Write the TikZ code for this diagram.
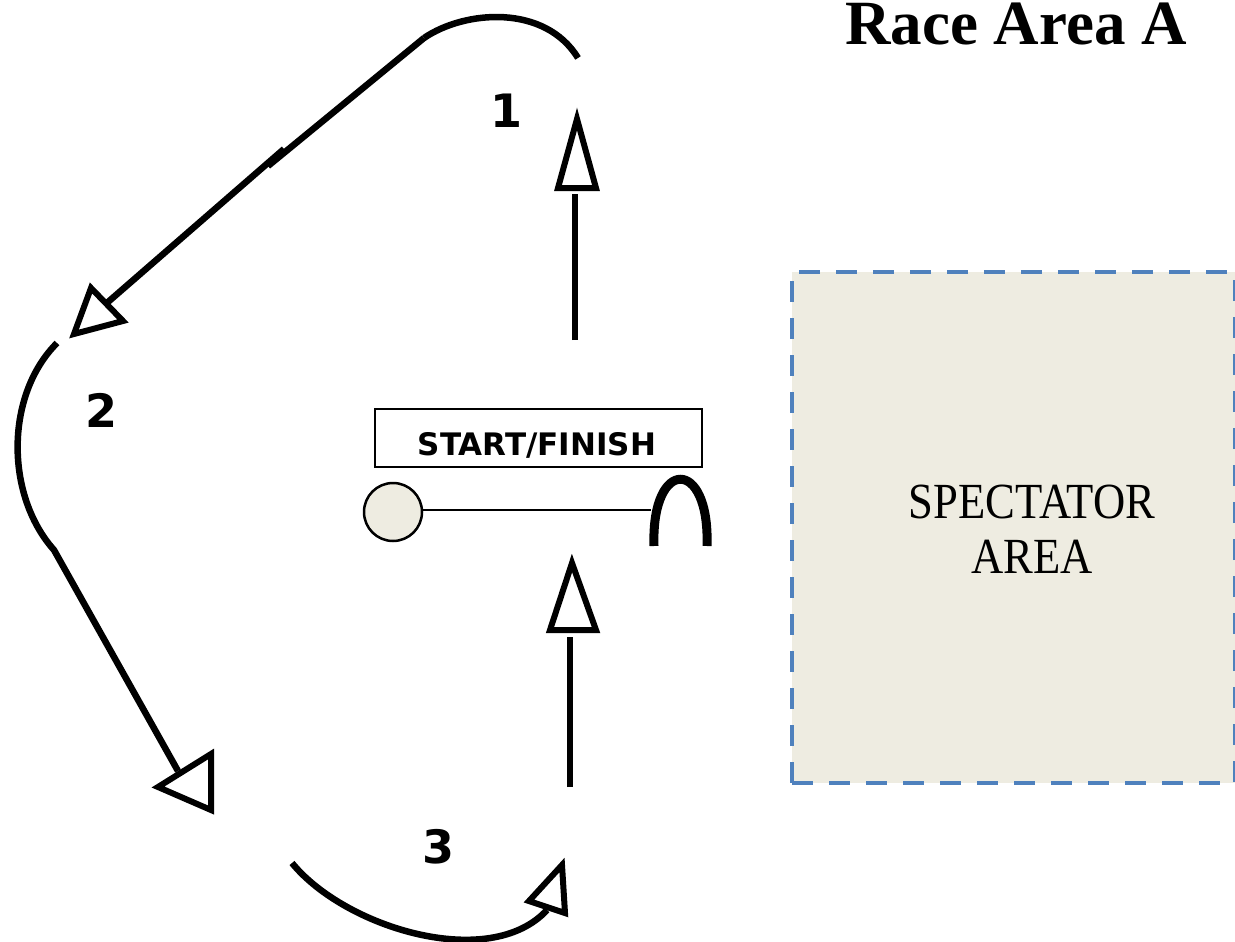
\documentclass[tikz,border=0pt]{standalone}
\usepackage{fontspec}
\setmainfont{Liberation Serif}
\newfontfamily\djsans{DejaVu Sans}
\definecolor{spfill}{HTML}{EEECE1}
\definecolor{spblue}{HTML}{4F81BD}
\begin{document}
\begin{tikzpicture}[x=1pt,y=-1pt,
  track/.style={line width=6.5pt},
  headtri/.style={line width=6pt, fill=white, line join=miter},
  num/.style={font=\djsans\bfseries\fontsize{46}{46}\selectfont, inner sep=0},
]
\useasboundingbox (0,0) rectangle (1235,942);

% title
\node[anchor=base west, inner sep=0, font=\bfseries\fontsize{63}{63}\selectfont] (title) at (845,45) {Race Area A};

% spectator area
\node[draw=spblue, fill=spfill, dash pattern=on 21pt off 16pt, line width=4pt,
      minimum width=443pt, minimum height=511pt, anchor=north west, inner sep=0] (spect) at (790,270) {};
\node[align=center, inner sep=0, font=\fontsize{46}{55}\selectfont] (spectext) at (1032,529) {\scalebox{0.97}[1.1]{SPECTATOR}\\\scalebox{0.97}[1.1]{AREA}};

% start / finish
\node[draw, line width=2pt, minimum width=327pt, minimum height=58pt, anchor=north west, inner sep=0] (sfbox) at (374,408) {};
\node[anchor=base, inner sep=0, font=\djsans\bfseries\fontsize{31}{31}\selectfont] (sftext) at (537,455) {START/FINISH};
\node[circle, draw, fill=spfill, line width=2.5pt, minimum size=58pt, inner sep=0] (buoy) at (393,512) {};
\coordinate (gL) at (654,546);
\coordinate (gR) at (707,546);
\coordinate (gMid) at (651,510);
\draw[line width=9pt] (gL) .. controls (651,457) and (710,457) .. (gR);
\draw[line width=2.5pt] (buoy.east |- gMid) -- (gMid);

% leg numbers
\node[num] (n1) at (506,111) {1};
\node[num] (n2) at (102,410) {2};
\node[num] (n3) at (438,847) {3};

% arrow heads (open triangles)
\coordinate (t1a) at (577,119); \coordinate (t1b) at (558,188); \coordinate (t1c) at (596,188);
\coordinate (t2a) at (74,334);  \coordinate (t2b) at (91,288);  \coordinate (t2c) at (123,321);
\coordinate (t3a) at (158,787); \coordinate (t3b) at (211,754); \coordinate (t3c) at (211,810);
\coordinate (t4a) at (562,865); \coordinate (t4b) at (529,901); \coordinate (t4c) at (565,913);
\coordinate (t5a) at (572,563); \coordinate (t5b) at (550,630); \coordinate (t5c) at (596,630);

% track points
\coordinate (p1s) at (575,340); \coordinate (p1e) at (575,194);
\coordinate (a1s) at (424,38);  \coordinate (a1e) at (578,58);
\coordinate (k1) at (268,166);  \coordinate (k2) at (284,149);
\coordinate (d1e) at (108,302);
\coordinate (a2s) at (57,343);  \coordinate (a2e) at (54,550);
\coordinate (d2e) at (178,771);
\coordinate (a3s) at (292,863); \coordinate (a3e) at (547,910);
\coordinate (p5s) at (570,787); \coordinate (p5e) at (570,637);

\draw[track] (p1s) -- (p1e);
\draw[track] (a1s) .. controls (465,10) and (545,4) .. (a1e);
\draw[track] (a1s) -- (k1);
\draw[track] (k2) -- (d1e);
\draw[track] (a2s) .. controls (5,395) and (5,495) .. (a2e) -- (d2e);
\draw[track] (a3s) .. controls (345,928) and (490,972) .. (a3e);
\draw[track] (p5s) -- (p5e);

\draw[headtri] (t1a) -- (t1b) -- (t1c) -- cycle;
\draw[headtri] (t2a) -- (t2b) -- (t2c) -- cycle;
\draw[headtri] (t3a) -- (t3b) -- (t3c) -- cycle;
\draw[headtri] (t4a) -- (t4b) -- (t4c) -- cycle;
\draw[headtri] (t5a) -- (t5b) -- (t5c) -- cycle;
\end{tikzpicture}
\end{document}
